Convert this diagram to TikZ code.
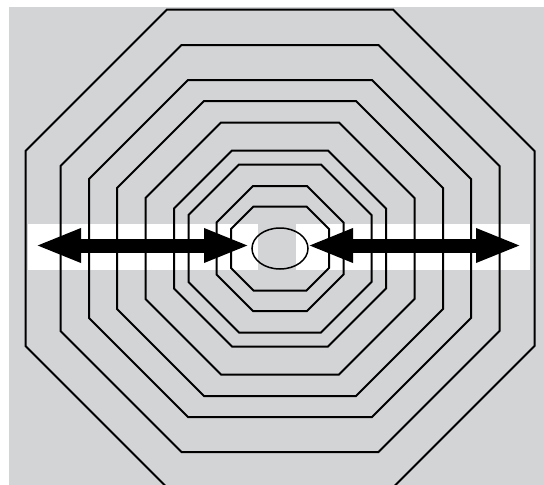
\documentclass[tikz,border=0pt]{standalone}
\usetikzlibrary{arrows.meta}
\definecolor{bg}{RGB}{211,212,214}
\begin{document}
\begin{tikzpicture}[x=1pt,y=-1pt,
  oct/.style={draw=black, line width=2pt, line join=miter},
  eggline/.style={draw=black, line width=1.5pt},
  bigarrow/.style={line width=14pt, {Triangle[length=46pt 0 0,width=31pt 0 0]}-{Triangle[length=46pt 0 0,width=31pt 0 0]}}]
\useasboundingbox (0,0) rectangle (544,485);
\fill[white] (0,0) rectangle (544,485);
\fill[bg] (9,7) rectangle (544,485);
\fill[white] (28,224) rectangle (530,270);
\fill[bg] (258,224) rectangle (296,270);
\begin{scope}
\clip (9,7) rectangle (544,485);
\foreach \W/\H/\a in {49/42/26.5, 63.5/62.5/27, 91.5/84/41, 106/98/48, 134.5/126/59, 163/147.5/76, 191/168.5/92, 219.5/203.5/98.5, 254.5/239/113} {
  \pgfmathsetmacro\d{\W-\a}
  \draw[oct] (280-\a,248.5-\H) -- (280+\a,248.5-\H) -- (280+\W,248.5-\H+\d) -- (280+\W,248.5+\H-\d) -- (280+\a,248.5+\H) -- (280-\a,248.5+\H) -- (280-\W,248.5+\H-\d) -- (280-\W,248.5-\H+\d) -- cycle;
}
\end{scope}
\draw[eggline] (280,248.5) ellipse [x radius=28pt, y radius=20.5pt];
\coordinate (la) at (35,245.5);
\coordinate (lb) at (250,245.5);
\coordinate (ra) at (307,245.5);
\coordinate (rb) at (522,245.5);
\draw[bigarrow] (la) -- (lb);
\draw[bigarrow] (ra) -- (rb);
\end{tikzpicture}
\end{document}
